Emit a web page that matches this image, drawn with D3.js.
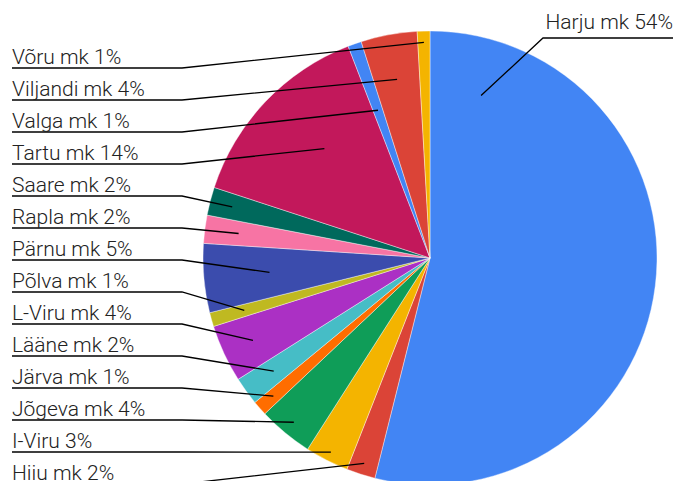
<!DOCTYPE HTML>
<html>
<head>
<meta charset="utf-8">
<title>maakonnad</title>
<style>
	body { margin: 0; background: #fff; }
	text { font-family: Roboto, sans-serif; font-size: 21px; font-weight: 300; fill: #222; }
</style>
</head>

<body>
<div id="chart"></div>

	<script src="https://cdnjs.cloudflare.com/ajax/libs/d3/7.8.5/d3.min.js" charset="utf-8"></script>
	<script>
	// data
	var names = ["Harju mk", "Hiiu mk", "I-Viru", "Jõgeva mk", "Järva mk", "Lääne mk", "L-Viru mk",
				"Põlva mk", "Pärnu mk", "Rapla mk", "Saare mk", "Tartu mk", "Valga mk", "Viljandi mk", "Võru mk"];
	var shares = [53.9, 2.06, 3.1, 3.9, 1.06, 2.0, 4.1, 1.0, 4.9, 2.0, 2.0, 14.1, 0.97, 4.0, 0.9];
	var colors = ["#4285f4", "#db4437", "#f4b400", "#0f9d58", "#ff6d00", "#46bdc6", "#ab30c4",
				"#bfb921", "#3b4cad", "#f774a4", "#00695c", "#c2185b", "#4285f4", "#db4437", "#f4b400"];

	// leader line ends: position inside slice (angle fraction, radius fraction)
	var leadT = [0.09, 0.5, 0.5, 0.5, 0.5, 0.5, 0.5, 0.5, 0.5, 0.5, 0.5, 0.55, 0.5, 0.5, 0.5];
	var leadR = [0.75, 0.95, 0.96, 0.94, 0.92, 0.85, 0.86, 0.85, 0.71, 0.85, 0.9, 0.67, 0.69, 0.8, 0.95];

	var W = 687, H = 481, cx = 430, cy = 258, R = 227;

	var svg = d3.select("#chart")
				.append("svg")
				.attr("width", W)
				.attr("height", H);

	var total = d3.sum(shares);
	var pie = d3.pie().sort(null).value(function(d){ return d; });
	var arcs = pie(shares);
	var arc = d3.arc().innerRadius(0).outerRadius(R);

	var g = svg.append("g").attr("transform", "translate(" + cx + "," + cy + ")");

	g.selectAll("path")
		.data(arcs)
		.enter()
		.append("path")
		.attr("d", arc)
		.attr("fill", function(d, i){ return colors[i]; })
		.attr("stroke", "#fff")
		.attr("stroke-width", 0.4);

	// left labels go from Võru (top) down to Hiiu
	var rowY = d3.scaleLinear().domain([0, 1]).range([68, 100]);

	arcs.forEach(function(d, i){
		var a = d.startAngle + (d.endAngle - d.startAngle) * leadT[i];
		var r = R * leadR[i];
		var px = cx + Math.sin(a) * r, py = cy - Math.cos(a) * r;
		var label = names[i] + " " + Math.round(shares[i] / total * 100) + "%";

		if (i == 0) {
			var uy = 38;
			svg.append("path")
				.attr("d", "M673," + uy + "L543," + uy + "L" + px + "," + py)
				.attr("fill", "none").attr("stroke", "#000").attr("stroke-width", 1.3);
			svg.append("text")
				.attr("x", 673).attr("y", uy - 9)
				.attr("text-anchor", "end")
				.text(label);
		} else {
			var uy = rowY(names.length - 1 - i);
			svg.append("path")
				.attr("d", "M12," + uy + "L182," + uy + "L" + px + "," + py)
				.attr("fill", "none").attr("stroke", "#000").attr("stroke-width", 1.3);
			svg.append("text")
				.attr("x", 12).attr("y", uy - 4)
				.text(label);
		}
	});
	</script>
</body>
</html>
